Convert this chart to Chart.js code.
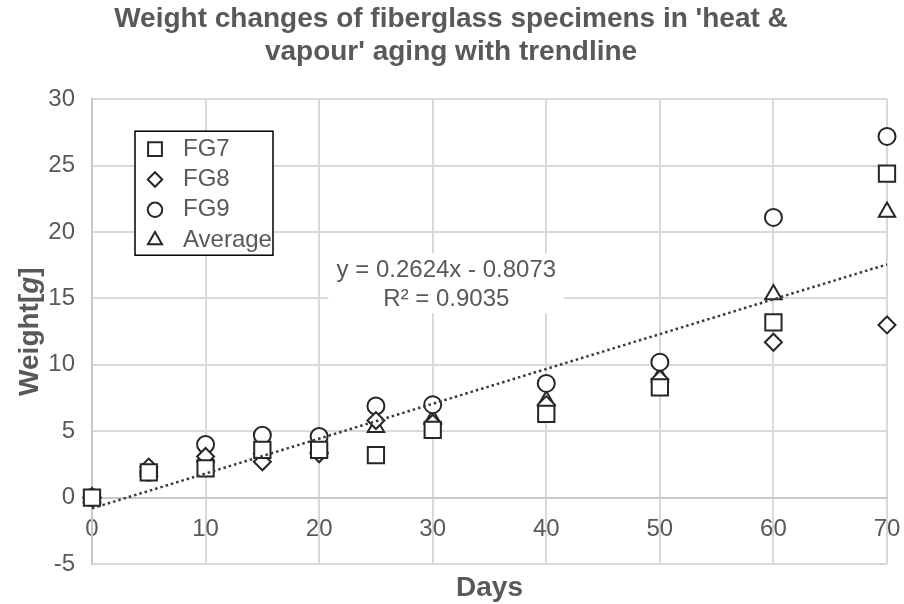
<!DOCTYPE html>
<html>
<head>
<meta charset="utf-8">
<script src="https://cdn.jsdelivr.net/npm/chart.js@4/dist/chart.umd.min.js"></script>
<style>
  html, body { margin: 0; padding: 0; background: #fff; }
  #wrap { width: 904px; height: 604px; }
</style>
</head>
<body>
<div id="wrap"><canvas id="weight-chart"></canvas></div>
<script>
// Data
const days = [0, 5, 10, 15, 20, 25, 30, 40, 50, 60, 70];
const fg7 = [0, 1.9, 2.2, 3.6, 3.6, 3.2, 5.1, 6.3, 8.3, 13.2, 24.4];
const fg8 = [0, 2.3, 3.1, 2.7, 3.3, 5.8, 5.6, 7.0, 8.9, 11.7, 13.0];
const fg9 = [0, 1.9, 4.0, 4.7, 4.6, 6.9, 7.0, 8.6, 10.2, 21.1, 27.2];
const average = [0, 2.0, 3.1, 3.7, 3.8, 5.3, 5.9, 7.3, 9.1, 15.3, 21.5];

const series_names = ["FG7", "FG8", "FG9", "Average"];
const trend_slope = 0.2624;
const trend_intercept = -0.8073;
const trend_r2 = 0.9035;

const title_lines = ["Weight changes of fiberglass specimens in 'heat &", "vapour' aging with trendline"];
const x_title = "Days";

const text_grey = "#595959";
const marker_dark = "#262626";
const font_family = "'Liberation Sans', Arial, Helvetica, sans-serif";

function toPoints(ys) {
    let pts = [];
    for (let i = 0; i < days.length; i ++) {
        pts.push({x: days[i], y: ys[i]});
    }
    return pts;
}

function scatterSet(label, ys, style, radius) {
    return {
        type: "scatter",
        label: label,
        data: toPoints(ys),
        pointStyle: style,
        pointRadius: radius,
        pointHoverRadius: radius,
        pointBackgroundColor: "#fff",
        pointBorderColor: marker_dark,
        pointBorderWidth: 2,
        clip: false,
        order: 1
    };
}

const first_day = days[0];
const last_day = days[days.length - 1];

const datasets = [
    scatterSet(series_names[0], fg7, "rect", 11.5),
    scatterSet(series_names[1], fg8, "rectRot", 8.5),
    scatterSet(series_names[2], fg9, "circle", 8.5),
    scatterSet(series_names[3], average, "triangle", 9.5),
    {
        type: "line",
        label: "Linear (Average)",
        data: [
            {x: first_day, y: trend_slope * first_day + trend_intercept},
            {x: last_day, y: trend_slope * last_day + trend_intercept}
        ],
        borderColor: "#3a3a3a",
        borderWidth: 2.5,
        borderDash: [2.5, 3],
        pointRadius: 0,
        fill: false,
        clip: false,
        order: 0
    }
];

// Axis titles, trendline label and the boxed legend
const decorations = {
    id: "decorations",
    afterDatasetsDraw(chart) {
        const ctx = chart.ctx;
        const area = chart.chartArea;
        const xs = chart.scales.x;
        const ys = chart.scales.y;

        ctx.save();

        // trendline equation with white backing
        const lx = xs.getPixelForValue(31.2);
        ctx.fillStyle = "#fff";
        ctx.fillRect(lx - 118, ys.getPixelForValue(18.4), 236, 60);
        ctx.fillStyle = text_grey;
        ctx.font = "24px " + font_family;
        ctx.textAlign = "center";
        ctx.textBaseline = "middle";
        const sign = trend_intercept < 0 ? " - " : " + ";
        ctx.fillText("y = " + trend_slope.toFixed(4) + "x" + sign + Math.abs(trend_intercept).toFixed(4), lx, ys.getPixelForValue(17.1));
        ctx.fillText("R\u00B2 = " + trend_r2.toFixed(4), lx, ys.getPixelForValue(14.9));

        // x title
        ctx.font = "bold 28px " + font_family;
        ctx.fillText(x_title, (area.left + area.right) / 2, 588);

        // y title with italic g
        const part1 = "Weight[";
        const part2 = "g";
        const part3 = "]";
        const bold = "bold 28px " + font_family;
        const boldItalic = "italic bold 28px " + font_family;
        ctx.font = bold;
        const w1 = ctx.measureText(part1).width;
        const w3 = ctx.measureText(part3).width;
        ctx.font = boldItalic;
        const w2 = ctx.measureText(part2).width;
        const total = w1 + w2 + w3;
        ctx.translate(30, (area.top + area.bottom) / 2);
        ctx.rotate(-Math.PI / 2);
        ctx.textAlign = "left";
        ctx.font = bold;
        ctx.fillText(part1, -total / 2, 0);
        ctx.font = boldItalic;
        ctx.fillText(part2, -total / 2 + w1, 0);
        ctx.font = bold;
        ctx.fillText(part3, -total / 2 + w1 + w2, 0);
        ctx.restore();

        // legend box
        ctx.save();
        const bx = area.left + 43;
        const by = area.top + 32;
        ctx.fillStyle = "#fff";
        ctx.fillRect(bx, by, 138, 124);
        ctx.strokeStyle = "#000";
        ctx.lineWidth = 1.5;
        ctx.strokeRect(bx, by, 138, 124);
        for (let i = 0; i < 4; i ++) {
            const ds = chart.data.datasets[i];
            const cy = by + 18 + i * 30.3;
            ctx.fillStyle = "#fff";
            ctx.strokeStyle = marker_dark;
            ctx.lineWidth = 2;
            Chart.helpers.drawPoint(ctx, {
                pointStyle: ds.pointStyle,
                radius: ds.pointRadius * 0.85,
                rotation: 0,
                borderWidth: 2
            }, bx + 20, cy);
            ctx.fillStyle = text_grey;
            ctx.font = "24px " + font_family;
            ctx.textAlign = "left";
            ctx.textBaseline = "middle";
            ctx.fillText(ds.label, bx + 48, cy);
        }
        ctx.restore();
    }
};

const canvas = document.getElementById("weight-chart");

const config = {
    data: { datasets: datasets },
    options: {
        responsive: false,
        animation: false,
        devicePixelRatio: 1,
        layout: {
            padding: { top: 0, right: 17, bottom: 40, left: 15 }
        },
        plugins: {
            legend: { display: false },
            tooltip: { enabled: false },
            title: {
                display: true,
                text: title_lines,
                color: text_grey,
                font: { family: font_family, size: 28, weight: "bold", lineHeight: 1.2 },
                padding: { top: 2, bottom: 30 }
            }
        },
        scales: {
            x: {
                type: "linear",
                position: { y: 0 },
                min: 0,
                max: 70,
                ticks: {
                    stepSize: 10,
                    padding: 3,
                    color: text_grey,
                    font: { family: font_family, size: 24 }
                },
                grid: {
                    color: "#d9d9d9",
                    lineWidth: 2,
                    drawTicks: true,
                    tickLength: 14,
                    tickColor: "rgba(0,0,0,0)"
                },
                border: { color: "#c8c8c8", width: 2 }
            },
            y: {
                type: "linear",
                min: -5,
                max: 30,
                afterFit: (scale) => { scale.width = 77; },
                ticks: {
                    stepSize: 5,
                    padding: 17,
                    color: text_grey,
                    font: { family: font_family, size: 24 }
                },
                grid: {
                    color: "#d9d9d9",
                    lineWidth: 2,
                    drawTicks: false
                },
                border: { color: "#c8c8c8", width: 2 }
            }
        }
    },
    plugins: [decorations]
};

canvas.width = 904;
canvas.height = 604;
const weight_chart = new Chart(canvas.getContext("2d"), config);
</script>
</body>
</html>
